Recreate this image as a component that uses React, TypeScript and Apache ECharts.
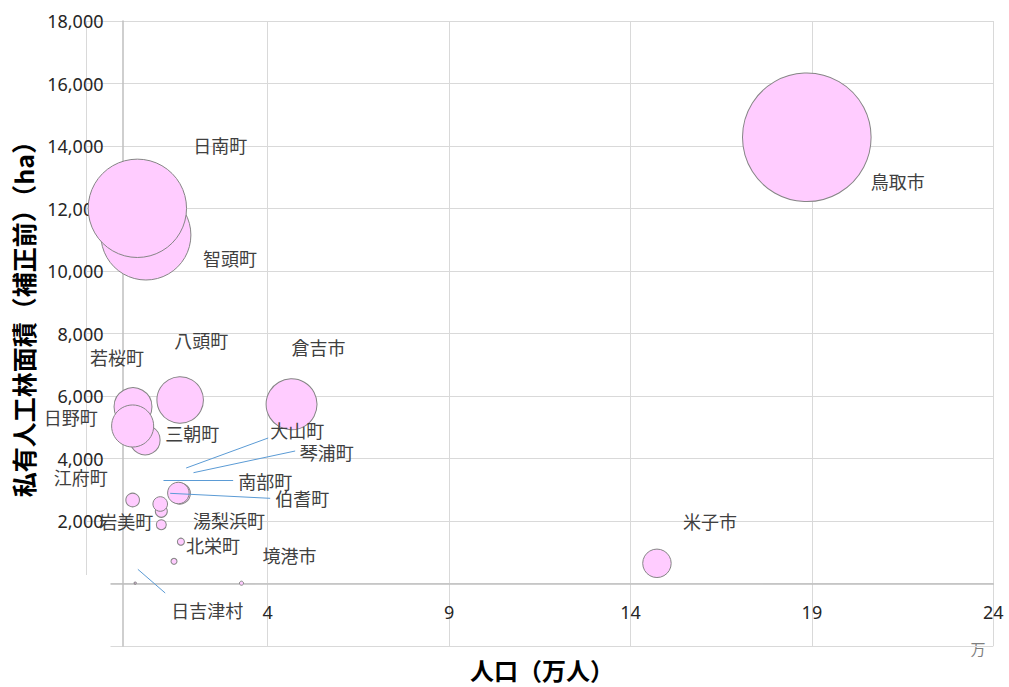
import React, { useEffect, useRef } from "react";
import * as echarts from "echarts";

// Municipalities of Tottori prefecture
const names = [
  "鳥取市", "米子市", "倉吉市", "境港市", "岩美町", "若桜町", "智頭町", "八頭町", "三朝町", "湯梨浜町",
  "琴浦町", "北栄町", "日吉津村", "大山町", "南部町", "伯耆町", "日南町", "日野町", "江府町",
];
// Population (万人)
const population = [
  18.86, 14.73, 4.66, 3.28, 1.07, 0.29, 0.645, 1.59, 0.625, 1.61,
  1.58, 1.42, 0.35, 1.54, 1.07, 1.04, 0.41, 0.28, 0.28,
];
// 私有人工林面積（補正前）(ha)
const forestArea = [
  14278, 646, 5734, 10, 1882, 5658, 11152, 5872, 4592, 1338,
  2880, 710, 15, 2896, 2310, 2544, 12006, 5040, 2672,
];
// Bubble size (relative)
const bubbleSize = [
  100, 4.9, 15.7, 0.1, 0.6, 8.7, 49, 13.1, 5.4, 0.3,
  2.7, 0.22, 0.03, 2.8, 0.87, 1.29, 58.5, 10.7, 1.12,
];
// Axis ticks
const xMin = -1, xMax = 24, xStep = 5;
const yMin = -2000, yMax = 18000, yStep = 2000;

// Data-label layout (pixel offsets from bubble centre)
const labelOffsets = [
  [91, 44], [53, -42], [27, -57], [48, -28], [-35, -4], [-16, -50], [84, 23], [21, -60], [47, -7], [48, -22],
  [147, -42], [39, -16], [72, 27], [119, -63], [104, -30], [142, -6], [83, -63], [-62, -9], [-52, -23],
];
// Leader lines (in axis units)
const leaderLines = [
  [[1.755, 3696], [4.015, 4656]],
  [[1.957, 3546], [4.759, 4240]],
  [[1.13, 3312], [3.05, 3312]],
  [[1.314, 2886], [4.07, 2726]],
  [[0.424, 454], [1.177, -304]],
];

const CJK = '"Noto Sans CJK JP", "Noto Sans", sans-serif';
const NUM = '"Noto Sans", "Noto Sans CJK JP", sans-serif';

const GRID_LEFT = 86.2;
const GRID_RIGHT = 15.7;
const GRID_TOP = 21;
const GRID_BOTTOM = 41;

export default function App() {
  const ref = useRef<HTMLDivElement>(null);
  useEffect(() => {
    if (!ref.current) return;
    const chart = echarts.init(ref.current, undefined, { renderer: "svg" });
    const maxSize = Math.max(...bubbleSize);
    const plotW = 1009 - GRID_LEFT - GRID_RIGHT;
    const plotH = 687 - GRID_TOP - GRID_BOTTOM;
    // place axes where the other axis is 0 (axis crosses at 0)
    const yAxisShift = ((0 - xMin) / (xMax - xMin)) * plotW;
    const xAxisShift = ((0 - yMin) / (yMax - yMin)) * plotH;
    const data = names.map((n, i) => ({
      name: n,
      value: [population[i], forestArea[i], bubbleSize[i]],
      label: { offset: labelOffsets[i] },
    }));
    chart.setOption({
      animation: false,
      backgroundColor: "#ffffff",
      grid: { left: GRID_LEFT, right: GRID_RIGHT, top: GRID_TOP, bottom: GRID_BOTTOM, containLabel: false },
      xAxis: {
        type: "value",
        min: xMin,
        max: xMax,
        interval: xStep,
        position: "bottom",
        offset: -xAxisShift,
        axisLine: { show: true, onZero: false, lineStyle: { color: "#BFBFBF", width: 1.5 } },
        axisTick: { show: false },
        axisLabel: {
          margin: 19,
          fontSize: 18,
          fontFamily: NUM,
          color: "#262626",
          formatter: (v: number) => (v < 0 ? "" : String(v)),
        },
        splitLine: { show: true, lineStyle: { color: "#D9D9D9", width: 1 } },
      },
      yAxis: {
        type: "value",
        min: yMin,
        max: yMax,
        interval: yStep,
        position: "left",
        offset: -yAxisShift,
        axisLine: { show: true, onZero: false, lineStyle: { color: "#BFBFBF", width: 1.5 } },
        axisTick: { show: false },
        axisLabel: {
          margin: 19,
          fontSize: 18,
          fontFamily: NUM,
          color: "#262626",
          formatter: (v: number) => (v <= 0 ? "" : v.toLocaleString("en-US")),
        },
        splitLine: { show: true, lineStyle: { color: "#D9D9D9", width: 1 } },
      },
      series: [
        {
          type: "scatter",
          data,
          symbol: "circle",
          symbolSize: (val: number[]) => 128.6 * Math.sqrt(val[2] / maxSize),
          itemStyle: { color: "#FFCCFF", borderColor: "#858585", borderWidth: 1, opacity: 1 },
          label: {
            show: true,
            position: "inside",
            formatter: (p: any) => p.name,
            fontSize: 18,
            fontFamily: CJK,
            color: "#404040",
          },
          emphasis: { disabled: true },
          silent: true,
          z: 2,
        },
        {
          type: "lines",
          coordinateSystem: "cartesian2d",
          data: leaderLines.map((c) => ({ coords: c })),
          lineStyle: { color: "#5B9BD5", width: 1, opacity: 1 },
          silent: true,
          z: 3,
        },
      ],
      graphic: [
        {
          type: "rect",
          z: 1,
          silent: true,
          shape: { x: 80, y: 575, width: 30.5, height: 76 },
          style: { fill: "#ffffff" },
        },
        {
          type: "text",
          x: 542,
          y: 669,
          style: {
            text: "人口（万人）",
            fontSize: 24,
            fontWeight: "bold",
            fontFamily: CJK,
            fill: "#000000",
            align: "center",
            verticalAlign: "middle",
          },
        },
        {
          type: "text",
          x: 23,
          y: 313,
          rotation: Math.PI / 2,
          style: {
            text: "私有人工林面積（補正前）（ha）",
            fontSize: 25,
            fontWeight: "bold",
            fontFamily: CJK,
            fill: "#000000",
            align: "center",
            verticalAlign: "middle",
          },
        },
        {
          type: "text",
          x: 978,
          y: 648,
          style: {
            text: "万",
            fontSize: 15,
            fontFamily: CJK,
            fill: "#7F7F7F",
            align: "center",
            verticalAlign: "middle",
          },
        },
      ],
    });
    return () => chart.dispose();
  }, []);
  return (
    <div
      ref={ref}
      style={{ position: "fixed", left: 0, top: 0, width: 1009, height: 687, background: "#fff" }}
    />
  );
}
